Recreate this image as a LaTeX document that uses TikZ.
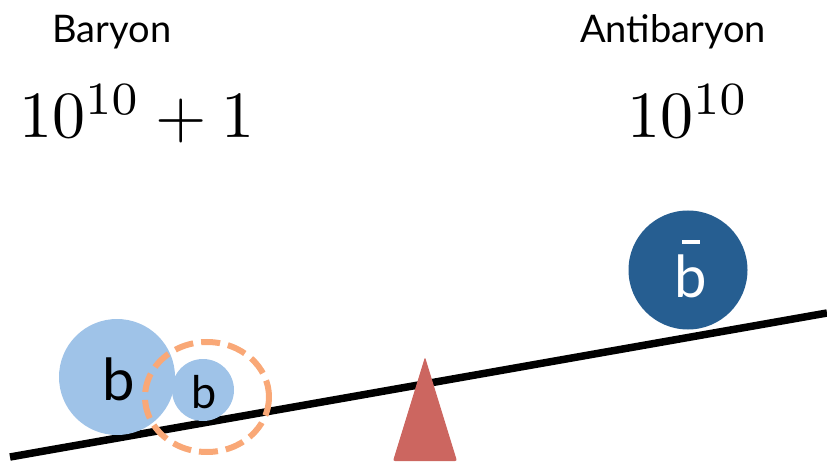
\documentclass[tikz,border=0pt]{standalone}
\usepackage{fontspec}
\setmainfont{Lato}
\definecolor{lightb}{HTML}{9FC3E8}
\definecolor{darkb}{HTML}{265E91}
\definecolor{peach}{HTML}{F9A877}
\definecolor{fulc}{HTML}{CC6660}
\tikzset{
  lbl/.style={anchor=base, inner sep=0pt, font=\fontsize{38}{40}\selectfont},
  num/.style={anchor=base, inner sep=0pt, scale=6.6, font=\fontsize{10}{12}\selectfont},
  ball/.style={circle, inner sep=0pt, draw=none},
}
\begin{document}
\begin{tikzpicture}[x=1pt,y=-1pt]
\useasboundingbox (0,0) rectangle (827,462);
% beam
\coordinate (bl) at (10,457);
\coordinate (br) at (827,313);
\draw[line width=7.5pt] (bl) -- (br);
% fulcrum
\fill[fulc, rounded corners=2pt] (425,357) -- (457,461) -- (393,461) -- cycle;
% balls
\node[ball, fill=lightb, minimum size=116pt] (B1) at (117,377) {};
\node[ball, fill=lightb, minimum size=62pt] (B2) at (203,390) {};
\node[ball, fill=darkb, minimum size=119pt] (AB) at (688,270) {};
\draw[peach, line width=6pt, dash pattern=on 19pt off 8pt] (207,397) ellipse [x radius=62, y radius=55];
\node[anchor=base, inner sep=0pt, font=\fontsize{58}{60}\selectfont] (b1) at (119,400) {b};
\node[anchor=base, inner sep=0pt, font=\fontsize{45}{48}\selectfont] (b2) at (204,408) {b};
\node[anchor=base, inner sep=0pt, text=white, font=\fontsize{58}{60}\selectfont] (b3) at (691,298) {b};
\fill[white] (682,240) rectangle (700,244);
% labels
\node[lbl] (tb) at (112,43) {Baryon};
\node[lbl] (ta) at (673,43) {Antibaryon};
\node[num] (nb) at (137,138) {$10^{10}+1$};
\node[num] (na) at (688,138) {$10^{10}$};
\end{tikzpicture}
\end{document}
